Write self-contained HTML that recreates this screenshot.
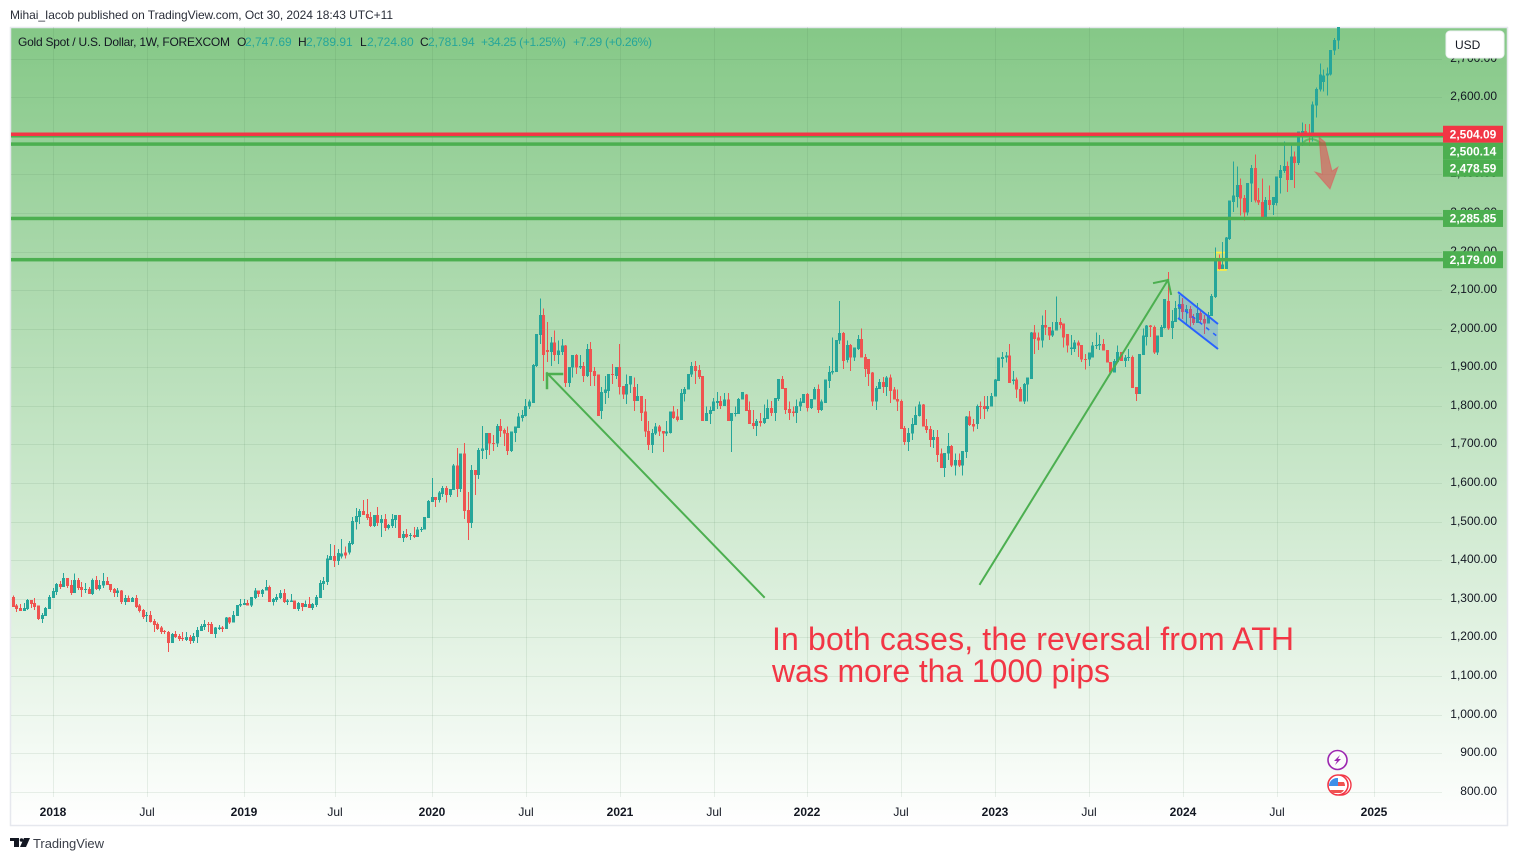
<!DOCTYPE html>
<html lang="en">
<head>
<meta charset="utf-8">
<title>Gold Spot / U.S. Dollar weekly chart</title>
<style>
html,body{margin:0;padding:0;background:#fff;width:1518px;height:861px;overflow:hidden}
svg{display:block}
text{font-family:"Liberation Sans",sans-serif}
</style>
</head>
<body>
<svg id="chart" xmlns="http://www.w3.org/2000/svg" width="1518" height="861" viewBox="0 0 1518 861">
  <defs>
    <linearGradient id="paneGradient" x1="0" y1="0" x2="0" y2="1">
      <stop offset="0" stop-color="#85c887"/>
      <stop offset="1" stop-color="#ffffff"/>
    </linearGradient>
    <clipPath id="paneClip"><rect x="11" y="27" width="1432" height="770"/></clipPath>
    <clipPath id="flagClip"><circle cx="1337" cy="786" r="8"/></clipPath>
  </defs>

  <text x="10" y="19" font-size="12" fill="#2a2e39" textLength="383" lengthAdjust="spacing">Mihai_Iacob published on TradingView.com, Oct 30, 2024 18:43 UTC+11</text>

  <rect x="10.5" y="27.5" width="1497" height="798" fill="url(#paneGradient)" stroke="#e6e8ee" stroke-width="1.5"/>

  <g id="gridLayer" shape-rendering="crispEdges"></g>
  <g id="priceLabelLayer"></g>
  <g id="timeLabelLayer"></g>
  <rect x="1215.5" y="252.5" width="10.5" height="17.5" fill="#ffeb3b" fill-opacity="0.3" stroke="#ffeb3b" stroke-width="1.6"/>
  <g id="candleLayer" clip-path="url(#paneClip)" shape-rendering="crispEdges"></g>

  <g>
    <polygon points="1178,292 1218,324 1218,349 1178,318" fill="#2962ff" fill-opacity="0.2"/>
    <line x1="1178" y1="292" x2="1218" y2="324" stroke="#2962ff" stroke-width="2"/>
    <line x1="1178" y1="318" x2="1218" y2="349" stroke="#2962ff" stroke-width="2"/>
    <line x1="1178" y1="305" x2="1218" y2="337" stroke="#2962ff" stroke-width="1.5" stroke-dasharray="4 5"/>
  </g>

  <g id="levelLayer"></g>

  <g fill="none" stroke="#4caf50" stroke-linecap="square">
    <line x1="764" y1="597" x2="547" y2="373" stroke-width="2"/>
    <polyline points="562,374 547,374 547,388" stroke-width="2.5"/>
  </g>
  <g fill="none" stroke="#4caf50" stroke-linecap="square">
    <line x1="980" y1="584" x2="1168" y2="280" stroke-width="2"/>
    <polyline points="1154,283 1168,280 1171,294" stroke-width="2"/>
  </g>

  <path d="M1302 144 Q1310 134 1322 144" fill="none" stroke="#4caf50" stroke-width="2" stroke-opacity="0.7"/>
  <polygon points="1319,137 1325,142 1332,171 1338,167 1330,189 1315,172 1322,174" fill="#f23645" fill-opacity="0.5" stroke="#f23645" stroke-opacity="0.35" stroke-width="1"/>

  <g fill="#f23645" font-size="32">
    <text x="772" y="650" textLength="522" lengthAdjust="spacing">In both cases, the reversal from ATH</text>
    <text x="772" y="682" textLength="338" lengthAdjust="spacing">was more tha 1000 pips</text>
  </g>

  <g font-size="12">
    <text x="18" y="46" fill="#131722" textLength="212" lengthAdjust="spacing">Gold Spot / U.S. Dollar, 1W, FOREXCOM</text>
    <text x="237" y="46" fill="#131722">O</text>
    <text x="245" y="46" fill="#26a69a">2,747.69</text>
    <text x="298" y="46" fill="#131722">H</text>
    <text x="306" y="46" fill="#26a69a">2,789.91</text>
    <text x="360" y="46" fill="#131722">L</text>
    <text x="367" y="46" fill="#26a69a">2,724.80</text>
    <text x="420" y="46" fill="#131722">C</text>
    <text x="428" y="46" fill="#26a69a">2,781.94</text>
    <text x="481" y="46" fill="#26a69a" textLength="85" lengthAdjust="spacing">+34.25 (+1.25%)</text>
    <text x="573" y="46" fill="#26a69a" textLength="79" lengthAdjust="spacing">+7.29 (+0.26%)</text>
  </g>

  <g>
    <rect x="1446" y="31" width="58" height="27" rx="4" fill="#ffffff" stroke="#eef0f3"/>
    <text x="1455" y="49" font-size="12" fill="#131722">USD</text>
  </g>

  <g>
    <circle cx="1337.5" cy="760" r="9.5" fill="#fbfdfb" stroke="#9c27b0" stroke-width="1.6"/>
    <polygon points="1340,755 1334,761 1337,761 1335,765 1341,759 1338,759" fill="#9c27b0"/>
  </g>
  <g>
    <circle cx="1341" cy="785" r="10" fill="#fff" stroke="#f23645" stroke-width="1.4"/>
    <circle cx="1338" cy="785" r="10" fill="#fff" stroke="#f23645" stroke-width="1.6"/>
    <g clip-path="url(#flagClip)">
      <rect x="1328" y="778" width="18" height="16" fill="#fff"/>
      <rect x="1337" y="782" width="9" height="4" fill="#ef5350"/>
      <rect x="1328" y="790" width="18" height="3" fill="#ef5350"/>
      <rect x="1328" y="777" width="10" height="9" fill="#3d8fe8"/>
    </g>
  </g>

  <g>
    <polygon points="10,838 19,838 19,847 14,847 14,841 10,841" fill="#131722"/>
    <circle cx="21.5" cy="840" r="1.8" fill="#131722"/>
    <polygon points="24,838 30,838 26,847 20,847" fill="#131722"/>
    <text x="33" y="848" font-size="13" fill="#3a3e48" textLength="71" lengthAdjust="spacing">TradingView</text>
  </g>
</svg>

<script>
const opens = [
1305,1282,1276,1269,1274,1297,1289,1282,1248,1256,
1274,1302,1318,1339,1331,1354,1336,1315,1349,1331,
1323,1326,1313,1349,1326,1334,1346,1339,1326,1315,
1321,1292,1302,1292,1302,1282,1271,1257,1258,1243,
1235,1225,1216,1214,1186,1209,1204,1199,1193,1201,
1191,1201,1217,1227,1235,1235,1209,1222,1225,1222,
1251,1238,1256,1282,1284,1289,1282,1302,1321,1313,
1321,1331,1292,1297,1302,1315,1292,1292,1295,1274,
1289,1279,1287,1276,1284,1302,1339,1344,1401,1411,
1398,1410,1420,1420,1442,1499,1512,1528,1520,1512,
1489,1517,1497,1507,1484,1489,1504,1517,1458,1468,
1463,1466,1460,1479,1479,1510,1551,1564,1556,1572,
1587,1569,1582,1645,1585,1676,1530,1497,1634,1621,
1683,1686,1730,1704,1702,1748,1738,1730,1683,1730,
1743,1769,1774,1798,1808,1904,1984,2036,1945,1940,
1964,1932,1940,1956,1860,1899,1932,1899,1904,1878,
1948,1891,1881,1787,1834,1839,1883,1878,1901,1852,
1829,1855,1849,1813,1826,1785,1735,1699,1728,1746,
1735,1728,1730,1785,1772,1764,1831,1842,1881,1904,
1893,1878,1761,1779,1787,1808,1813,1800,1816,1761,
1779,1779,1816,1829,1790,1756,1748,1761,1756,1766,
1795,1782,1818,1870,1847,1792,1785,1782,1798,1808,
1831,1795,1816,1844,1790,1808,1865,1886,1888,1969,
1989,1919,1958,1925,1948,1974,1927,1922,1886,1811,
1844,1862,1849,1873,1842,1818,1813,1743,1707,1728,
1751,1774,1803,1748,1740,1712,1720,1676,1639,1676,
1696,1645,1660,1645,1681,1772,1753,1753,1800,1800,
1792,1798,1824,1865,1922,1925,1930,1865,1868,1844,
1811,1855,1870,1990,1977,1969,2010,2005,1982,1995,
2018,2013,1987,1948,1948,1964,1958,1922,1920,1925,
1956,1956,1961,1945,1914,1886,1914,1940,1917,1925,
1927,1849,1831,1932,1979,2008,2005,1938,1979,2002,
2072,2002,2018,2051,2064,2044,2051,2031,2015,2041,
2025,2013,2033,2082,2179,2155,2155,2233,2329,2342,
2373,2339,2301,2376,2417,2334,2329,2290,2334,2321,
2326,2391,2409,2422,2386,2446,2430,2505,2513,2509,
2497,2578,2620,2640,2656,2659,2721,2747.69];

const highs = [
1308,1287,1287,1289,1300,1297,1302,1282,1263,1279,
1310,1328,1341,1346,1367,1354,1349,1365,1354,1344,
1341,1331,1352,1359,1349,1367,1357,1339,1328,1328,
1323,1310,1308,1305,1310,1287,1274,1266,1269,1248,
1238,1230,1219,1217,1212,1217,1209,1214,1214,1206,
1212,1227,1235,1245,1240,1240,1227,1232,1230,1253,
1253,1269,1284,1300,1300,1297,1305,1328,1321,1326,
1349,1334,1302,1313,1323,1326,1300,1313,1295,1292,
1289,1295,1305,1289,1310,1349,1357,1414,1442,1440,
1429,1455,1435,1450,1512,1536,1533,1556,1559,1525,
1517,1538,1517,1520,1494,1520,1517,1517,1476,1481,
1471,1486,1486,1486,1512,1556,1613,1564,1580,1593,
1593,1585,1650,1691,1676,1704,1577,1647,1634,1691,
1748,1730,1730,1725,1753,1766,1741,1746,1733,1746,
1782,1790,1818,1816,1909,1987,2078,2052,2018,1979,
1995,1969,1974,1958,1901,1932,1935,1932,1914,1961,
1966,1901,1881,1849,1878,1883,1909,1901,1961,1852,
1881,1878,1873,1857,1826,1818,1761,1740,1756,1751,
1735,1761,1785,1800,1792,1844,1849,1883,1914,1917,
1906,1878,1798,1798,1821,1836,1826,1834,1834,1782,
1798,1821,1836,1831,1811,1790,1766,1782,1803,1816,
1813,1821,1870,1878,1847,1811,1798,1816,1821,1831,
1834,1818,1849,1855,1816,1868,1904,1977,1971,2072,
1992,1969,1961,1951,1984,2000,1935,1922,1888,1852,
1870,1875,1878,1881,1849,1842,1816,1748,1743,1769,
1798,1811,1805,1766,1748,1738,1738,1689,1678,1730,
1699,1676,1676,1683,1774,1787,1766,1803,1811,1826,
1826,1834,1870,1925,1940,1940,1961,1891,1873,1849,
1860,1873,1992,2010,1990,2034,2049,2005,2018,2083,
2028,2013,1987,1984,1971,1969,1958,1935,1938,1966,
1990,1984,1974,1945,1914,1922,1956,1940,1932,1948,
1930,1849,1935,2000,2010,2010,2008,1982,2010,2077,
2147,2049,2072,2088,2080,2062,2059,2038,2067,2049,
2036,2044,2090,2210,2192,2225,2238,2332,2433,2420,
2389,2347,2378,2425,2451,2365,2389,2342,2371,2342,
2394,2425,2485,2433,2480,2459,2511,2534,2531,2531,
2589,2625,2687,2672,2677,2723,2754,2789.91];

const lows = [
1279,1266,1269,1269,1271,1276,1271,1245,1237,1256,
1274,1302,1310,1326,1331,1328,1310,1315,1323,1305,
1315,1313,1310,1323,1321,1328,1336,1318,1305,1305,
1287,1284,1292,1292,1276,1264,1248,1240,1238,1214,
1219,1209,1209,1162,1186,1199,1191,1191,1191,1183,
1186,1186,1217,1219,1214,1209,1199,1219,1214,1222,
1235,1238,1256,1279,1284,1282,1279,1300,1305,1305,
1321,1292,1282,1292,1300,1289,1284,1292,1274,1269,
1269,1279,1276,1271,1279,1302,1323,1336,1401,1383,
1388,1405,1405,1415,1440,1479,1494,1517,1504,1486,
1486,1489,1460,1476,1479,1484,1484,1458,1447,1458,
1453,1458,1460,1473,1479,1510,1551,1538,1549,1564,
1549,1564,1582,1564,1577,1507,1453,1484,1569,1611,
1663,1663,1673,1683,1694,1720,1696,1673,1681,1707,
1743,1759,1772,1792,1808,1901,1961,1865,1914,1904,
1917,1909,1932,1849,1849,1873,1883,1896,1862,1875,
1852,1852,1774,1766,1805,1821,1857,1870,1829,1818,
1805,1834,1787,1813,1761,1720,1686,1678,1725,1722,
1681,1722,1728,1766,1759,1764,1811,1842,1875,1857,
1870,1761,1761,1753,1787,1792,1792,1800,1761,1681,
1772,1779,1816,1787,1753,1740,1722,1746,1753,1766,
1774,1761,1813,1844,1779,1764,1772,1756,1787,1808,
1785,1792,1816,1782,1787,1808,1847,1881,1888,1961,
1896,1912,1891,1917,1945,1925,1875,1852,1800,1790,
1844,1834,1826,1808,1816,1787,1740,1699,1683,1712,
1751,1772,1746,1730,1694,1691,1655,1639,1616,1660,
1642,1619,1642,1619,1665,1748,1733,1740,1766,1766,
1785,1798,1824,1865,1899,1912,1860,1855,1821,1811,
1805,1811,1870,1935,1945,1951,1984,1971,1979,1995,
2000,1951,1938,1932,1940,1927,1914,1894,1904,1925,
1948,1945,1943,1912,1883,1886,1914,1917,1901,1917,
1847,1813,1831,1932,1956,1979,1935,1932,1979,2000,
1997,1974,2018,2028,2025,2010,2002,2010,2015,2015,
1987,2013,2033,2080,2153,2155,2155,2230,2303,2314,
2293,2280,2293,2329,2327,2321,2288,2290,2308,2295,
2319,2350,2404,2355,2386,2365,2425,2474,2503,2474,
2485,2547,2615,2615,2604,2656,2710,2724.80];

const closes = [
1279,1274,1269,1276,1297,1287,1279,1248,1258,1276,
1305,1320,1339,1331,1354,1333,1315,1349,1328,1323,
1325,1313,1349,1326,1336,1346,1336,1323,1315,1321,
1292,1302,1292,1302,1279,1269,1253,1258,1240,1232,
1222,1214,1214,1186,1209,1201,1196,1196,1201,1191,
1204,1219,1230,1235,1233,1209,1225,1225,1222,1251,
1238,1258,1284,1287,1289,1282,1305,1321,1313,1323,
1331,1292,1300,1305,1315,1292,1295,1295,1274,1289,
1279,1287,1276,1287,1305,1341,1346,1404,1411,1398,
1419,1418,1412,1445,1502,1515,1528,1517,1510,1489,
1517,1497,1507,1484,1491,1507,1517,1458,1468,1460,
1466,1460,1479,1481,1512,1554,1564,1556,1575,1587,
1569,1585,1645,1585,1676,1528,1497,1634,1621,1686,
1689,1730,1702,1702,1748,1735,1728,1683,1733,1746,
1772,1777,1800,1811,1906,1987,2036,1932,1940,1964,
1932,1943,1956,1860,1901,1932,1899,1904,1878,1948,
1888,1878,1774,1836,1842,1883,1881,1901,1849,1829,
1857,1878,1813,1826,1782,1733,1699,1730,1746,1733,
1728,1733,1785,1769,1764,1834,1844,1883,1904,1891,
1875,1761,1782,1790,1811,1813,1800,1816,1761,1782,
1782,1818,1836,1787,1753,1748,1761,1756,1769,1795,
1782,1821,1870,1844,1790,1782,1782,1800,1811,1831,
1795,1818,1844,1790,1811,1868,1888,1891,1971,1989,
1917,1958,1925,1951,1974,1925,1896,1883,1811,1847,
1862,1849,1873,1839,1816,1811,1740,1707,1730,1753,
1777,1803,1746,1738,1712,1720,1673,1639,1678,1696,
1645,1660,1645,1683,1772,1751,1746,1800,1798,1792,
1800,1826,1868,1925,1927,1930,1860,1868,1842,1811,
1857,1873,1990,1974,1969,2010,2003,1982,1995,2018,
2010,1977,1956,1951,1964,1956,1920,1920,1938,1956,
1958,1961,1943,1912,1886,1917,1940,1917,1925,1927,
1847,1831,1935,1982,2008,2005,1938,1982,2005,2077,
2000,2020,2054,2064,2044,2051,2028,2015,2041,2023,
2013,2036,2085,2180,2155,2166,2236,2332,2345,2373,
2337,2301,2378,2417,2332,2327,2290,2334,2321,2342,
2394,2412,2422,2386,2446,2430,2511,2512,2503,2497,
2581,2622,2659,2656,2661,2723,2749,2781.94];

const priceTicks = [800,900,1000,1100,1200,1300,1400,1500,1600,1700,1800,1900,2000,2100,2200,2300,2400,2500,2600,2700];
const timeLabels = ["2018","Jul","2019","Jul","2020","Jul","2021","Jul","2022","Jul","2023","Jul","2024","Jul","2025"];
const timeTickWeeks = [11,37,64,89,116,142,168,194,220,246,272,298,324,350,377];
const resistanceLevels = [2504.09];
const supportLevels = [2500.14,2478.59,2285.85,2179.00];

const NS = "http://www.w3.org/2000/svg";
function xScale(week) { return 13.3 + 3.61 * week; }
function yScale(price) { return 791.7 - (price - 800) * 0.3858; }
function formatPrice(p) { return p.toLocaleString("en-US", { minimumFractionDigits: 2, maximumFractionDigits: 2 }); }
function make(tag, attrs) {
  const el = document.createElementNS(NS, tag);
  for (const k in attrs) el.setAttribute(k, attrs[k]);
  return el;
}

const gridLayer = document.getElementById("gridLayer");
const priceLabelLayer = document.getElementById("priceLabelLayer");
const timeLabelLayer = document.getElementById("timeLabelLayer");
const candleLayer = document.getElementById("candleLayer");
const levelLayer = document.getElementById("levelLayer");

priceTicks.forEach(function (p) {
  const y = Math.round(yScale(p));
  const line = make("rect", { x: 11, y: y, width: 1431, height: 1, fill: "#3c6e46", "fill-opacity": 0.1 });
  
  
  gridLayer.appendChild(line);
  const label = make("text", { x: 1497, y: y + 3, "text-anchor": "end", "font-size": 12, fill: "#131722" });
  
  
  label.textContent = formatPrice(p);
  priceLabelLayer.appendChild(label);
});

timeTickWeeks.forEach(function (week, n) {
  const x = Math.round(xScale(week));
  const line = make("rect", { x: x, y: 27, width: 1, height: 770, fill: "#3c6e46", "fill-opacity": 0.1 });
  
  
  gridLayer.appendChild(line);
  const isYear = timeLabels[n] !== "Jul";
  const label = make("text", { x: x, y: 816, "text-anchor": "middle", "font-size": 12, fill: "#131722", "font-weight": isYear ? "bold" : "normal" });
  
  
  label.textContent = timeLabels[n];
  timeLabelLayer.appendChild(label);
});

opens.forEach(function (open, i) {
  const up = closes[i] >= open;
  const color = up ? "#26a69a" : "#ef5350";
  const left = Math.round(xScale(i) - 1.5);
  const g = make("g", {});
  
  
  const wickTop = yScale(highs[i]);
  const wickBottom = yScale(lows[i]);
  const wick = make("rect", { x: left + 1, y: wickTop, width: 1, height: Math.max(1, wickBottom - wickTop), fill: color });
  
  
  g.appendChild(wick);
  const bodyTop = yScale(Math.max(open, closes[i]));
  const bodyBottom = yScale(Math.min(open, closes[i]));
  const body = make("rect", { x: left, y: bodyTop, width: 3, height: Math.max(1, bodyBottom - bodyTop), fill: color });
  
  
  g.appendChild(body);
  candleLayer.appendChild(g);
});

function drawLevelLine(price, color) {
  const line = make("rect", { x: 11, y: yScale(price) - 1.75, width: 1432, height: 3.5, fill: color });
  
  
  levelLayer.appendChild(line);
}
supportLevels.forEach(function (p) { drawLevelLine(p, "#4caf50"); });
resistanceLevels.forEach(function (p) { drawLevelLine(p, "#f23645"); });

const allTags = resistanceLevels.map(function (p) { return { price: p, color: "#f23645" }; })
  .concat(supportLevels.map(function (p) { return { price: p, color: "#4caf50" }; }));
allTags.sort(function (a, b) { return b.price - a.price; });
let previousTagCenter = -100;
allTags.forEach(function (tag) {
  const center = Math.max(yScale(tag.price), previousTagCenter + 17);
  previousTagCenter = center;
  const box = make("rect", { x: 1443, y: center - 8.5, width: 60, height: 17, fill: tag.color });
  
  
  levelLayer.appendChild(box);
  const text = make("text", { x: 1473, y: center + 4.2, "text-anchor": "middle", "font-size": 12, "font-weight": "bold", fill: "#ffffff" });
  
  
  text.textContent = formatPrice(tag.price);
  levelLayer.appendChild(text);
});
</script>
</body>
</html>
